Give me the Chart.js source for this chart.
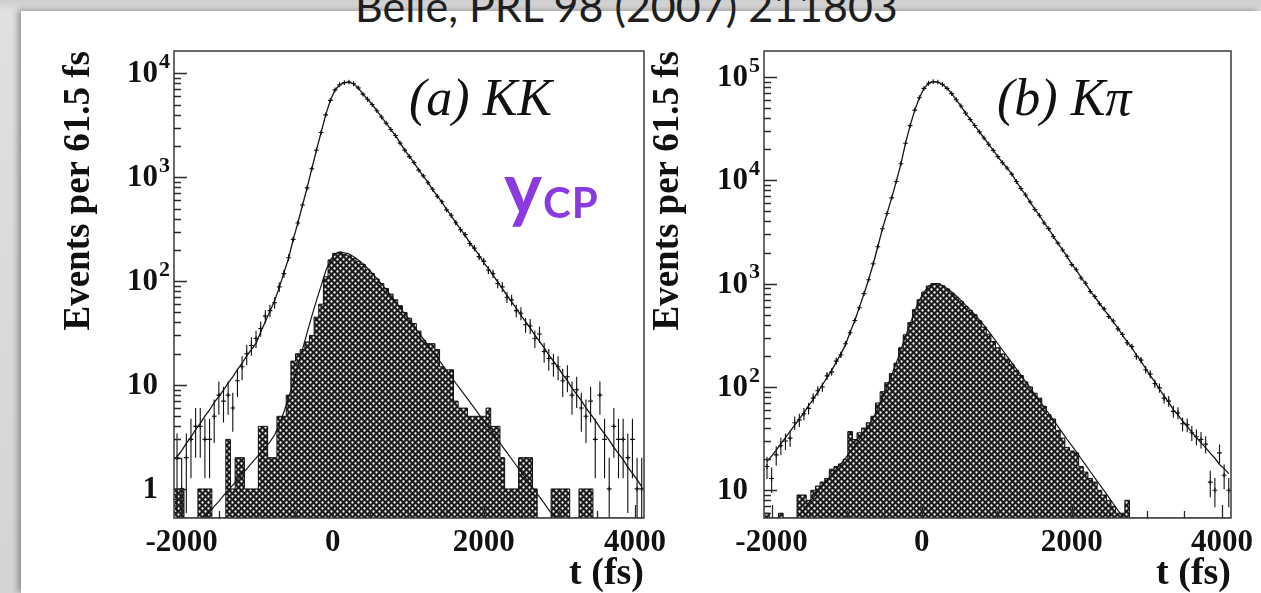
<!DOCTYPE html>
<html><head><meta charset="utf-8">
<script src="https://cdn.jsdelivr.net/npm/chart.js@4.4.1/dist/chart.umd.min.js"></script>
<style>
html,body{margin:0;padding:0;}
body{width:1261px;height:593px;overflow:hidden;position:relative;background:linear-gradient(180deg,#cdcdcd 0,#e0e0e0 11px,#d4d4d4 100%);}
#page{position:absolute;left:21px;top:11px;right:0;bottom:0;background:#fff;box-shadow:-3px -1px 6px rgba(0,0,0,0.35);}
canvas{position:absolute;left:0;top:0;}
.txt{position:absolute;white-space:nowrap;line-height:1;}
#ref{left:355px;top:-20px;font:43px Lato,"Open Sans",sans-serif;color:#1e1e1e;}
.lab{font:italic 52px "Liberation Serif","Times New Roman",serif;color:#111;}
.ycp{color:#8a3be0;font-family:Lato,"Open Sans",sans-serif;font-weight:bold;}
</style></head>
<body>
<div id="page"></div>
<div class="txt" id="ref">Belle, PRL 98 (2007) 211803</div>
<canvas id="cA" width="1261" height="593"></canvas>
<canvas id="cB" width="1261" height="593"></canvas>
<div class="txt lab" style="left:409px;top:68px">(a) KK</div>
<div class="txt lab" style="left:997px;top:68px">(b) Kπ</div>
<div class="txt ycp" style="left:504px;top:150px;font-size:72px">y</div>
<div class="txt ycp" style="left:543px;top:181px;font-size:42px;letter-spacing:1px">CP</div>
<script>
// ---- binning (categories) ----
const BIN_WIDTH = 61.5;
const FIRST_BIN_CENTER = -2060;
const N_BINS = 101;
const tBins = Array.from({length: N_BINS}, (_, i) => FIRST_BIN_CENTER + i * BIN_WIDTH);

// ---- tick labels ----
const xTickLabels = [-2000, 0, 2000, 4000];
const yTickValsKK = [1, 10, 100, 1000, 10000];
const yTickBaseKK = ['1', '10', '10', '10', '10'];
const yTickSupKK = ['', '', '2', '3', '4'];
const yTickValsKpi = [10, 100, 1000, 10000, 100000];
const yTickBaseKpi = ['10', '10', '10', '10', '10'];
const yTickSupKpi = ['', '2', '3', '4', '5'];

// ---- (a) KK ----
const kkData = [2,1,2,3,4,4,3,3,5,8, 7,8,6,11,15,20,24,28,35,46, 52,62,88,118,168,252,362,540,790,1205,
  1818,2690,3985,5490,6925,7760,8120,8230,7935,7250, 6305,5630,5005,4370,3795,3315,2880,2520,2130,1825,
  1580,1385,1170,1030,885,765,655,580,485,430, 365,312,280,230,208,172,155,128,118,95,
  88,70,66,52,49,38,37,28,31,21, 18,16,15,11,12,8,9,6,5,7, 3,8,3,1,4,3,3,2,3,1,1];
const kkFit = [2.04,2.34,2.75,3.16,3.72,4.27,5.01,5.75,6.76,7.76, 8.91,10.5,12.0,14.1,16.2,19.1,21.9,25.1,32.4,40.7,
  51.3,64.6,87.1,120,166,251,363,537,794,1202, 1820,2692,3981,5495,6918,7762,8128,8222,7943,7244,
  6310,5623,5012,4365,3802,3311,2884,2512,2138,1820, 1585,1380,1175,1023,891,759,661,575,490,427,
  363,316,275,234,204,178,151,132,115,97.7, 85.1,72.4,63.1,55.0,46.8,40.7,35.5,30.2,26.3,22.9,
  19.5,17.0,14.8,12.6,11.0,9.33,8.13,7.08,6.03,5.25, 4.57,3.89,3.39,2.95,2.51,2.19,1.91,1.62,1.41,1.23,1.05];
const kkBkg = [1,1,0,0,0,1,1,1,0,0, 0,3,1,2,2,1,1,1,4,4, 2,2,5,5,8,17,20,22,26,30,
  45,60,110,160,185,190,180,175,165,155, 145,130,118,105,95,85,75,66,58,50,
  44,39,33,27,25,25,22,15,14,14, 7,6,6,5,5,5,5,6,4,4, 2,1,1,1,2,2,2,1,0,0,
  0,1,1,1,1,0,0,1,1,1, 0,0,0,0,0,0,0,0,0,0,0];
const kkBkgFit = [null,null,null,null,0.42,0.47,0.53,0.60,0.68,0.76, 0.86,0.97,1.09,1.23,1.39,1.56,1.76,1.98,2.24,2.52,
  2.84,3.3,4.2,5.5,7.5,10.5,15,22,32,46, 65,90,125,160,182,190,187,183,172,160,
  147,133,119,106,94,83,73,63,55,48.5, 42.5,37,32,27.8,24.2,21,18.3,15.9,13.8,12.0,
  10.4,9.1,7.9,6.9,6.0,5.2,4.5,3.9,3.4,2.96, 2.57,2.24,1.94,1.69,1.47,1.28,1.11,0.96,0.84,0.73,
  0.63,0.55,0.48,0.42,null,null,null,null,null,null, null,null,null,null,null,null,null,null,null,null,null];

// ---- (b) Kpi ----
const kpiData = [17,13,22,27,30,32,45,48,55,62, 78,92,100,128,140,178,205,262,335,440,
  585,800,1090,1560,2280,3400,4780,6770,9760,14470, 22890,33900,47850,63120,77600,87130,90120,89160,85080,77650,
  69150,60300,52450,44700,38880,33910,29480,25730,22360,19520, 16960,14810,13160,11500,9750,8340,7220,6190,5230,4590,
  3870,3410,2860,2470,2120,1840,1530,1365,1135,1010, 840,750,640,570,480,435,365,322,268,246,
  198,182,147,133,108,98,78,73,58,56, 44,43,36,33,31,28,12,10,23,14,10];
const kpiFit = [19.1,21.4,24.5,28.2,32.4,37.2,42.7,49.0,56.2,66.1, 75.9,89.1,105,123,145,174,209,257,339,437,
  589,794,1096,1549,2291,3388,4786,6761,9772,14454, 22909,33884,47863,63096,77625,87096,90157,89125,85114,77625,
  69183,60256,52481,44668,38905,33884,29512,25704,22387,19498, 16982,14791,13183,11482,9772,8318,7244,6166,5248,4571,
  3890,3388,2884,2455,2138,1820,1549,1349,1148,1000, 851,741,646,562,490,427,372,316,275,240,
  204,178,151,129,112,95.5,81.3,70.8,60.3,53.7, 46.8,41.7,36.3,32.4,28.8,25.7,22.9,20.4,17.8,16.2,14.5];
const kpiBkg = [6,0,0,6,0,0,0,9,9,8, 10,11,12,13,16,17,18,20,37,31, 36,40,45,52,70,90,110,135,170,240,
  320,420,560,700,830,950,1000,1000,955,890, 813,741,676,603,550,501,437,380,324,275,
  240,209,186,166,145,129,112,100,87,78, 65,54,49,38,32,26,24,23,17,15, 13,12,10,9,8,7,6,6,8,0,
  0,0,0,0,0,0,0,0,0,0, 0,0,0,0,0,0,0,0,0,0,0];
const kpiBkgFit = [null,null,null,null,null,null,null,null,6.6,7.5, 8.5,9.7,11,12.5,14,16,18,20.5,23.5,27,
  31,36,42,50,62,78,100,130,170,230, 310,410,540,690,830,940,1000,1000,960,900,
  830,760,690,620,560,500,445,395,345,300, 262,228,198,172,150,130,113,98,85,74,
  64,55.5,48,41.5,36,31,27,23.5,20.3,17.6, 15.2,13.2,11.4,9.9,8.6,7.4,6.4,5.6,4.8,4.2,
  null,null,null,null,null,null,null,null,null,null, null,null,null,null,null,null,null,null,null,null,null];

const SERIF = '"Liberation Serif","Times New Roman",serif';

function makePattern(ctx) {
  const c = document.createElement('canvas');
  c.width = 6; c.height = 6;
  const g = c.getContext('2d');
  g.fillStyle = '#1b1b1b'; g.fillRect(0, 0, 6, 6);
  g.fillStyle = '#ffffff';
  [[1.5, 1.5], [4.5, 4.5]].forEach(([px, py]) => { g.beginPath(); g.arc(px, py, 1.15, 0, Math.PI * 2); g.fill(); });
  return ctx.createPattern(c, 'repeat');
}

function histPoints(vals, yMin) {
  const pts = vals.map((v, i) => ({x: tBins[i] - BIN_WIDTH / 2, y: Math.max(v, yMin)}));
  pts.push({x: tBins[N_BINS - 1] + BIN_WIDTH / 2, y: Math.max(vals[N_BINS - 1], yMin)});
  return pts;
}
const pts = vals => tBins.map((t, i) => ({x: t, y: vals[i]}));

const panelDeco = {
  id: 'panelDeco',
  afterDatasetsDraw(chart, args, o) {
    const {ctx, chartArea: a, scales: {x, y}} = chart;
    // error bars on data points
    ctx.save();
    ctx.beginPath(); ctx.rect(a.left, a.top, a.right - a.left, a.bottom - a.top); ctx.clip();
    ctx.strokeStyle = '#111'; ctx.lineWidth = 1.1;
    ctx.beginPath();
    const meta = chart.getDatasetMeta(0);
    meta.data.forEach((p, i) => {
      const v = o.values[i];
      if (!(v > 0)) return;
      const e = Math.sqrt(v);
      const yTop = y.getPixelForValue(v + e);
      const yBot = (v - e) > y.min ? y.getPixelForValue(v - e) : a.bottom;
      ctx.moveTo(p.x, yTop); ctx.lineTo(p.x, yBot);
    });
    ctx.stroke();
    ctx.restore();

    ctx.save();
    // frame
    ctx.strokeStyle = '#3a3a3a'; ctx.lineWidth = 1.5;
    ctx.strokeRect(a.left, a.top, a.right - a.left, a.bottom - a.top);
    // inward tick marks
    ctx.strokeStyle = '#2a2a2a'; ctx.lineWidth = 1.3;
    ctx.beginPath();
    const e0 = Math.floor(Math.log10(y.min)), e1 = Math.ceil(Math.log10(y.max));
    for (let e = e0; e <= e1; e++) {
      for (let k = 1; k < 10; k++) {
        const v = k * Math.pow(10, e);
        if (v < y.min || v > y.max) continue;
        const py = Math.round(y.getPixelForValue(v)) + 0.5;
        const len = k === 1 ? 13 : 7;
        ctx.moveTo(a.left, py); ctx.lineTo(a.left + len, py);
      }
    }
    for (let v = -2000; v <= x.max; v += 500) {
      const px = Math.round(x.getPixelForValue(v)) + 0.5;
      const len = (v % 2000 === 0) ? 13 : 7;
      ctx.moveTo(px, a.bottom); ctx.lineTo(px, a.bottom - len);
    }
    ctx.stroke();
    // tick labels
    ctx.fillStyle = '#111'; ctx.textBaseline = 'middle';
    ctx.font = 'bold 31px ' + SERIF; ctx.textAlign = 'center';
    o.xTicks.forEach(v => {
      ctx.fillText(String(v), x.getPixelForValue(v), a.bottom + 25);
    });
    o.yTickVals.forEach((v, i) => {
      const py = y.getPixelForValue(v);
      ctx.font = 'bold 31px ' + SERIF; ctx.textAlign = 'right';
      ctx.fillText(o.yTickBase[i], a.left - 16, py + 1);
      if (o.yTickSup[i]) {
        ctx.font = 'bold 22px ' + SERIF; ctx.textAlign = 'left';
        ctx.fillText(o.yTickSup[i], a.left - 15, py - 11);
      }
    });
    ctx.restore();
  }
};

function makeChart(id, cfg) {
  const el = document.getElementById(id);
  const ctx = el.getContext('2d');
  const pattern = makePattern(ctx);
  return new Chart(ctx, {
    type: 'line',
    data: {datasets: [
      {label: 'data', data: pts(cfg.data), showLine: false, pointStyle: 'cross', pointRadius: 2.4,
       pointBorderWidth: 1.1, borderColor: '#111', backgroundColor: '#111', order: 1},
      {label: 'fit', data: pts(cfg.fit), borderColor: '#151515', borderWidth: 1.3, pointRadius: 0, fill: false, order: 2},
      {label: 'background fit', data: pts(cfg.bkgFit), borderColor: '#151515', borderWidth: 1.2, pointRadius: 0,
       fill: false, spanGaps: false, order: 3},
      {label: 'background', data: histPoints(cfg.bkg, cfg.yMin), stepped: 'before', borderColor: '#111', borderWidth: 1,
       backgroundColor: pattern, fill: 'start', pointRadius: 0, order: 4}
    ]},
    options: {
      responsive: false, animation: false, events: [],
      layout: {padding: {left: cfg.padLeft, right: cfg.padRight, top: 51, bottom: 0}},
      plugins: {legend: {display: false}, tooltip: {enabled: false},
        panelDeco: {values: cfg.data, xTicks: xTickLabels, yTickVals: cfg.yTickVals, yTickBase: cfg.yTickBase, yTickSup: cfg.yTickSup}},
      scales: {
        x: {type: 'linear', min: -2100, max: 4120,
          afterFit: s => { s.height = 75; },
          grid: {display: false, drawTicks: false}, border: {display: false},
          ticks: {display: false},
          title: {display: true, text: 't (fs)', align: 'end', color: '#111',
            font: {family: SERIF, weight: 'bold', size: 38, lineHeight: 1}, padding: {top: 0, bottom: 0}}},
        y: {type: 'logarithmic', min: cfg.yMin, max: cfg.yMax,
          afterFit: s => { s.width = cfg.yWidth; },
          grid: {display: false, drawTicks: false}, border: {display: false},
          ticks: {display: false},
          title: {display: true, text: 'Events per 61.5 fs', align: 'end', color: '#111',
            font: {family: SERIF, weight: 'bold', size: 37, lineHeight: 1}, padding: {top: cfg.yTitlePad, bottom: 0}}}
      }
    },
    plugins: [panelDeco]
  });
}

makeChart('cA', {data: kkData, fit: kkFit, bkg: kkBkg, bkgFit: kkBkgFit, yMin: 0.525, yMax: 16400,
  padLeft: 0, padRight: 617, yWidth: 174, yTitlePad: 61,
  yTickVals: yTickValsKK, yTickBase: yTickBaseKK, yTickSup: yTickSupKK});
makeChart('cB', {data: kpiData, fit: kpiFit, bkg: kpiBkg, bkgFit: kpiBkgFit, yMin: 5.39, yMax: 178700,
  padLeft: 600, padRight: 30, yWidth: 164, yTitlePad: 50,
  yTickVals: yTickValsKpi, yTickBase: yTickBaseKpi, yTickSup: yTickSupKpi});
</script>
</body></html>
